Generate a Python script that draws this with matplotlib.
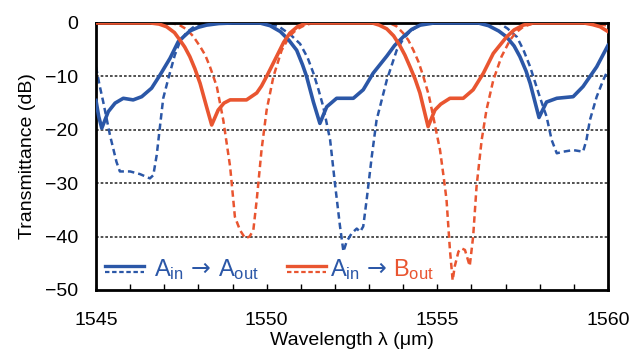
import matplotlib
matplotlib.use("Agg")
import matplotlib.pyplot as plt
from matplotlib.lines import Line2D

plt.rcParams["font.family"] = ["Liberation Sans", "DejaVu Sans"]
plt.rcParams["mathtext.fontset"] = "custom"
plt.rcParams["mathtext.rm"] = "Liberation Sans"
plt.rcParams["mathtext.it"] = "Liberation Sans:italic"

BLUE = "#2B57A7"
RED = "#E95530"

# A_in -> A_out, solid trace
wl_aa_solid = [1545.0, 1545.08, 1545.17, 1545.36, 1545.56, 1545.8, 1546.09, 1546.34,
               1546.63, 1546.88, 1547.17, 1547.41, 1547.75, 1548.0, 1548.24, 1548.6,
               1549.0, 1549.8, 1550.1, 1550.4, 1550.65, 1550.88, 1551.05, 1551.17,
               1551.37, 1551.56, 1551.76, 1552.05, 1552.54, 1552.83, 1553.12, 1553.52,
               1553.75, 1554.0, 1554.25, 1554.5, 1554.9, 1556.2, 1556.5, 1556.8,
               1557.03, 1557.25, 1557.42, 1557.6, 1557.72, 1557.85, 1557.98, 1558.2,
               1558.5, 1558.98, 1559.27, 1559.67, 1560.0]
t_aa_solid = [-14.5, -17.5, -19.7, -16.6, -15.0, -14.1, -14.4, -13.8,
              -12.2, -9.7, -6.6, -3.5, -1.5, -0.8, -0.4, -0.1,
              0.0, 0.0, -0.5, -1.6, -3.2, -5.1, -7.8, -10.0,
              -14.8, -18.8, -15.7, -14.1, -14.1, -12.5, -9.4, -6.2,
              -4.2, -2.6, -1.2, -0.4, 0.0, 0.0, -0.5, -1.5,
              -2.6, -4.3, -6.3, -9.0, -11.3, -14.5, -17.7, -14.8,
              -14.1, -13.8, -11.9, -8.2, -4.2]

# A_in -> A_out, dashed trace
wl_aa_dash = [1545.0, 1545.1, 1545.21, 1545.41, 1545.6, 1545.7, 1546.0, 1546.29,
              1546.58, 1546.68, 1546.78, 1546.88, 1546.97, 1547.12, 1547.31, 1547.46,
              1547.65, 1547.85, 1548.1, 1548.4, 1550.0, 1550.2, 1550.39, 1550.7,
              1550.98, 1551.2, 1551.37, 1551.52, 1551.66, 1551.86, 1552.0, 1552.15,
              1552.25, 1552.34, 1552.49, 1552.64, 1552.74, 1552.83, 1552.93, 1553.08,
              1553.22, 1553.52, 1553.81, 1554.0, 1554.2, 1554.45, 1554.7, 1556.8,
              1557.05, 1557.33, 1557.52, 1557.72, 1558.0, 1558.2, 1558.35, 1558.5,
              1558.69, 1558.98, 1559.27, 1559.37, 1559.47, 1559.67, 1559.86, 1560.0]
t_aa_dash = [-8.2, -11.5, -14.7, -21.0, -26.0, -27.8, -27.8, -28.3,
             -29.1, -28.5, -24.7, -19.1, -14.1, -10.4, -6.0, -3.5,
             -1.8, -0.8, -0.2, 0.0, 0.0, -0.3, -0.8, -2.2,
             -3.9, -6.5, -9.4, -12.5, -15.7, -21.9, -30.0, -38.1,
             -42.8, -41.0, -39.4, -38.5, -39.1, -38.1, -33.1, -25.0,
             -18.2, -10.7, -5.1, -3.0, -1.6, -0.5, 0.0, 0.0,
             -1.0, -2.6, -5.0, -8.2, -13.8, -17.5, -21.9, -24.4,
             -24.1, -23.8, -24.1, -21.9, -18.2, -13.8, -10.7, -8.8]

# A_in -> B_out, solid trace
wl_ab_solid = [1545.0, 1546.6, 1546.85, 1547.07, 1547.3, 1547.46, 1547.6, 1547.75,
               1547.9, 1548.05, 1548.24, 1548.39, 1548.58, 1548.75, 1548.93, 1549.41,
               1549.71, 1549.85, 1550.0, 1550.29, 1550.5, 1550.68, 1550.9, 1551.17,
               1553.1, 1553.3, 1553.52, 1553.72, 1553.9, 1554.05, 1554.2, 1554.35,
               1554.49, 1554.62, 1554.73, 1554.93, 1555.1, 1555.37, 1555.76, 1556.05,
               1556.35, 1556.64, 1557.03, 1557.25, 1557.52, 1557.8, 1559.3, 1559.55,
               1559.77, 1560.0]
t_ab_solid = [0.0, 0.0, -0.2, -0.7, -1.8, -3.2, -4.5, -6.3,
              -8.6, -11.3, -15.7, -19.1, -16.3, -15.0, -14.4, -14.4,
              -13.1, -11.8, -10.0, -6.3, -3.6, -1.9, -0.7, 0.0,
              0.0, -0.4, -1.1, -2.4, -4.2, -6.0, -8.2, -10.5,
              -13.1, -16.5, -19.4, -16.3, -15.2, -14.1, -14.1, -12.5,
              -9.4, -5.7, -2.6, -1.3, -0.4, 0.0, 0.0, -0.3,
              -0.7, -1.6]

# A_in -> B_out, dashed trace
wl_ab_dash = [1545.0, 1547.2, 1547.45, 1547.66, 1547.85, 1548.05, 1548.2, 1548.34,
              1548.54, 1548.73, 1548.93, 1549.07, 1549.22, 1549.37, 1549.5, 1549.61,
              1549.71, 1549.85, 1550.0, 1550.2, 1550.44, 1550.68, 1550.88, 1551.15,
              1551.4, 1553.6, 1553.8, 1554.0, 1554.15, 1554.3, 1554.45, 1554.59,
              1554.75, 1554.88, 1555.08, 1555.2, 1555.27, 1555.37, 1555.45, 1555.51,
              1555.62, 1555.71, 1555.81, 1555.88, 1555.95, 1556.05, 1556.15, 1556.3,
              1556.44, 1556.64, 1556.88, 1557.13, 1557.3, 1557.52, 1557.8, 1558.0,
              1559.5, 1560.0]
t_ab_dash = [0.0, 0.0, -0.4, -1.2, -2.5, -4.4, -6.0, -8.2,
             -11.9, -18.2, -26.9, -36.3, -38.8, -40.3, -40.0, -38.8,
             -33.1, -23.8, -16.3, -10.0, -5.1, -2.4, -1.2, -0.3,
             0.0, 0.0, -0.6, -1.9, -3.2, -5.1, -7.3, -10.0,
             -13.5, -17.5, -23.8, -29.5, -33.1, -42.5, -48.2, -45.6,
             -42.8, -42.2, -42.5, -44.0, -45.5, -40.0, -30.6, -21.9,
             -16.3, -10.7, -6.3, -3.2, -1.8, -0.7, -0.1, 0.0,
             0.0, -0.5]

x_ticks = [1545, 1550, 1555, 1560]
y_ticks = [0, -10, -20, -30, -40, -50]
grid_levels = [-10, -20, -30, -40]

fig = plt.figure(figsize=(6.31, 3.61), dpi=100)
ax = fig.add_axes([0.1521, 0.1967, 0.8114, 0.7396])

dash = (0, (2.6, 1.6))
for y in grid_levels:
    ax.axhline(y, color="#333333", lw=1.2, ls=(0, (1.6, 1.2)), zorder=1)

ax.plot(wl_aa_dash, t_aa_dash, color=BLUE, lw=1.8, ls=dash, zorder=2)
ax.plot(wl_ab_dash, t_ab_dash, color=RED, lw=1.8, ls=dash, zorder=2)
ax.plot(wl_aa_solid, t_aa_solid, color=BLUE, lw=2.6, zorder=3)
ax.plot(wl_ab_solid, t_ab_solid, color=RED, lw=2.6, zorder=3)

ax.set_xlim(1545, 1560)
ax.set_ylim(-50, 0)
ax.set_xticks(x_ticks)
ax.set_xticks(range(1545, 1561), minor=True)
ax.set_yticks(y_ticks)
ax.tick_params(axis="x", which="both", direction="in", length=4, width=1,
               labelsize=14, pad=16, top=False)
ax.tick_params(axis="y", length=0, labelsize=14, pad=13)
for s in ax.spines.values():
    s.set_linewidth(2)
    s.set_color("black")

ax.set_xlabel("Wavelength λ (μm)", fontsize=14, labelpad=2)
ax.set_ylabel("Transmittance (dB)", fontsize=14, labelpad=6)

# hand-built legend: solid over dashed sample for each colour
tr = ax.transAxes
for x0, color in [(0.017, BLUE), (0.373, RED)]:
    ax.add_line(Line2D([x0, x0 + 0.076], [0.09, 0.09], transform=tr,
                       color=color, lw=2.4, zorder=5))
    ax.add_line(Line2D([x0, x0 + 0.076], [0.068, 0.068], transform=tr,
                       color=color, lw=1.6, ls=(0, (2.0, 1.2)), zorder=5))


def label_run(x, y, pieces, gap=7):
    """Lay text pieces left to right on one baseline, gap in pixels."""
    renderer = fig.canvas.get_renderer()
    for s, color, family in pieces:
        t = ax.text(x, y, s, transform=tr, color=color, fontsize=17,
                    family=family, va="baseline", ha="left", zorder=5)
        bb = t.get_window_extent(renderer)
        x = tr.inverted().transform((bb.x1 + gap, bb.y0))[0]


arrow = "\u2192"
label_run(0.114, 0.052, [(r"$\mathrm{A_{in}}$", BLUE, "Liberation Sans"),
                         (arrow, BLUE, "DejaVu Sans"),
                         (r"$\mathrm{A_{out}}$", BLUE, "Liberation Sans")])
label_run(0.457, 0.052, [(r"$\mathrm{A_{in}}$", BLUE, "Liberation Sans"),
                         (arrow, BLUE, "DejaVu Sans"),
                         (r"$\mathrm{B_{out}}$", RED, "Liberation Sans")])

fig.savefig("out.png", dpi=100)
